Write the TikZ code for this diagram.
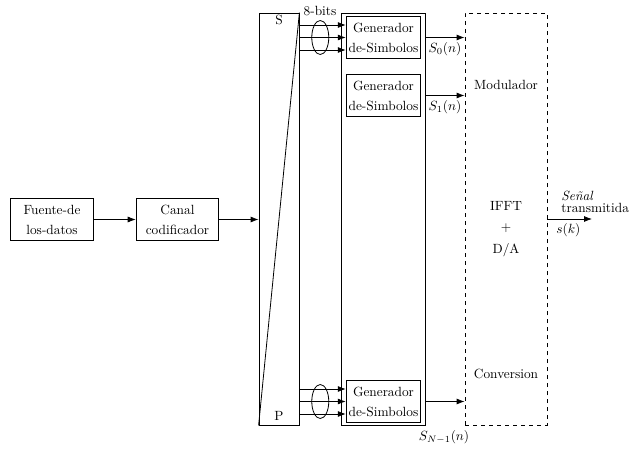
\documentclass[tikz,border=0pt]{standalone}
\usepackage{tikz}
\usetikzlibrary{arrows.meta,positioning,calc}

\begin{document}
\begin{tikzpicture}[x=0.75pt,y=-0.75pt, line width=0.6pt,
    bloque/.style={draw, align=center, inner sep=1pt, minimum width=62pt, minimum height=31pt},
    genbox/.style={draw, align=center, inner sep=0pt, minimum width=56pt, minimum height=31pt},
    alto/.style={draw, minimum height=309pt, inner sep=0pt},
    flecha/.style={-{Latex[length=6pt,width=4.5pt]}}]
    \useasboundingbox (0,0) rectangle (634,449);
    % fuente y codificador
    \node[bloque] (fuente) at (52,219.5) {Fuente-de\\[3pt]los-datos};
    \node[bloque, right=31.5pt of fuente] (canal) {Canal\\[3pt]codificador};
    % serie / paralelo
    \node[alto, minimum width=30pt] (sp) at (279,219) {};
    \draw (sp.north east) -- (sp.south west);
    \node (s) at (279,20) {S};
    \node (p) at (279,416) {P};
    % generadores de simbolos
    \node[alto, minimum width=63pt] (bank) at (383,219) {};
    \node[genbox] (gen1) at (383.5,37.5) {Generador\\[3pt]de-Simbolos};
    \node[genbox] (gen2) at (383.5,95.5) {Generador\\[3pt]de-Simbolos};
    \node[genbox] (gen3) at (383.5,401.5) {Generador\\[3pt]de-Simbolos};
    % modulador
    \node[alto, dashed, minimum width=61.5pt] (mod) at (506,219) {};
    \node (modtxt) at (506,85) {Modulador};
    \node[align=center] (ifft) at (506,229) {IFFT\\[4pt]+\\[4pt]D/A};
    \node (conv) at (506,374) {Conversion};

    \draw[flecha] (fuente) -- (canal);
    \draw[flecha] (canal) -- (canal -| sp.west);
    \foreach \g in {gen1,gen3} {
      \foreach \d in {-12.5,0,12.5}
        \draw[flecha] ($(sp.east |- \g.west)+(0,\d)$) -- ($(\g.west)+(0,\d)$);
      \draw ($(sp.east |- \g.west)!0.45!(\g.west)$) ellipse (8.5 and 17);
    }
    \node (bits) at (320,11) {8-bits};

    \draw[flecha] (bank.east |- gen1.east) -- node[below] {$S_0(n)$} (mod.west |- gen1.east);
    \draw[flecha] (bank.east |- gen2.east) -- node[below] {$S_1(n)$} (mod.west |- gen2.east);
    \draw[flecha] (bank.east |- gen3.east) -- (mod.west |- gen3.east);
    \node (sn) at (444,437) {$S_{N-1}(n)$};

    \coordinate (salida) at (592,219);
    \draw[flecha] (mod.east |- salida) -- (salida);
    \node[anchor=west, inner sep=0pt] (senal) at (561,196) {\textit{Se\~{n}al}};
    \node[anchor=west, inner sep=0pt] (trans) at (561,208) {transmitida};
    \node[anchor=west, inner sep=0pt] (sk) at (556,230) {$s(k)$};
\end{tikzpicture}
\end{document}
